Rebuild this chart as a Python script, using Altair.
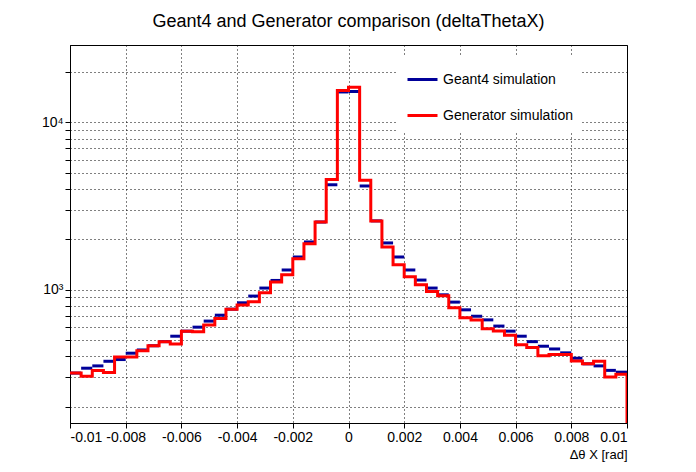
import pandas as pd
import altair as alt

# 50 bins of 0.0004 from -0.01 to 0.01
edges = [round(-0.01 + 0.0004 * i, 4) for i in range(51)]

geant4 = [318, 340, 351, 374, 383, 418, 437, 463, 490, 528,
          566, 598, 650, 705, 766, 836, 917, 1024, 1137, 1313,
          1570, 1930, 2540, 4240, 15200, 15300, 4170, 2580, 1905, 1570,
          1313, 1143, 1024, 933, 844, 759, 695, 661, 607, 566,
          528, 490, 460, 443, 420, 390, 361, 351, 330, 322]

generator = [318, 304, 330, 321, 397, 397, 432, 463, 490, 475,
             566, 561, 615, 673, 766, 810, 847, 959, 1112, 1230,
             1535, 1885, 2540, 4560, 15500, 16200, 4510, 2580, 1803, 1412,
             1197, 1071, 977, 921, 780, 680, 661, 586, 568, 535,
             469, 452, 403, 410, 410, 376, 361, 374, 301, 313]

y_min, y_max = 160, 29000

blue = pd.DataFrame({"lo": edges[:-1], "hi": edges[1:], "v": geant4,
                     "s": "Geant4 simulation"})
red = pd.DataFrame({"x": edges[:-1] + [edges[-1], edges[-1]],
                    "v": generator + [generator[-1], y_min],
                    "o": list(range(52)),
                    "s": "Generator simulation"})

x_ticks = [-0.01, -0.008, -0.006, -0.004, -0.002, 0, 0.002, 0.004, 0.006, 0.008, 0.01]
y_ticks = [200, 300, 400, 500, 600, 700, 800, 900, 1000,
           2000, 3000, 4000, 5000, 6000, 7000, 8000, 9000, 10000, 20000]

color = alt.Color("s:N", title=None,
                  scale=alt.Scale(domain=["Geant4 simulation", "Generator simulation"],
                                  range=["#000099", "#ff0000"]),
                  legend=alt.Legend(orient="none", legendX=328, legendY=10,
                                    symbolType="stroke", symbolStrokeWidth=3,
                                    symbolSize=900, labelFontSize=14, rowPadding=12,
                                    padding=8, fillColor="white",
                                    labelFont="Liberation Sans", labelColor="black"))

xs = alt.Scale(domain=[-0.01, 0.01], nice=False, zero=False)
ys = alt.Scale(type="log", domain=[y_min, y_max], nice=False)

x_axis = alt.Axis(values=x_ticks, labelExpr="datum.value + ''", title="Δθ X [rad]",
                  titleAnchor="end", titleFontWeight="normal", titleFontSize=13,
                  gridDash=[1, 3], gridColor="black", labelFontSize=14)
y_axis = alt.Axis(values=y_ticks, title=None, gridDash=[1, 3], gridColor="black",
                  labelExpr="datum.value == 1000 ? '10³' : datum.value == 10000 ? '10⁴' : ''",
                  labelFontSize=14)

bars = alt.Chart(blue).mark_rule(strokeWidth=3).encode(
    x=alt.X("lo:Q", scale=xs, axis=x_axis),
    x2="hi:Q",
    y=alt.Y("v:Q", scale=ys, axis=y_axis),
    color=color,
)

steps = alt.Chart(red).mark_line(interpolate="step-after", strokeWidth=3, clip=True).encode(
    x=alt.X("x:Q", scale=xs),
    y=alt.Y("v:Q", scale=ys),
    order="o:Q",
    color=color,
)

chart = (bars + steps).properties(
    width=557, height=378,
    padding={"left": 33, "top": 5, "right": 5, "bottom": 5},
    title=alt.Title("Geant4 and Generator comparison (deltaThetaX)", fontSize=18,
                    fontWeight="normal", font="Liberation Sans", offset=14),
).configure_view(stroke="black", strokeWidth=1).configure_axis(
    labelFont="Liberation Sans", titleFont="Liberation Sans",
    domainColor="black", tickColor="black", labelColor="black", titleColor="black",
)

chart.save("out.html", embed_options={"renderer": "svg", "actions": False})
